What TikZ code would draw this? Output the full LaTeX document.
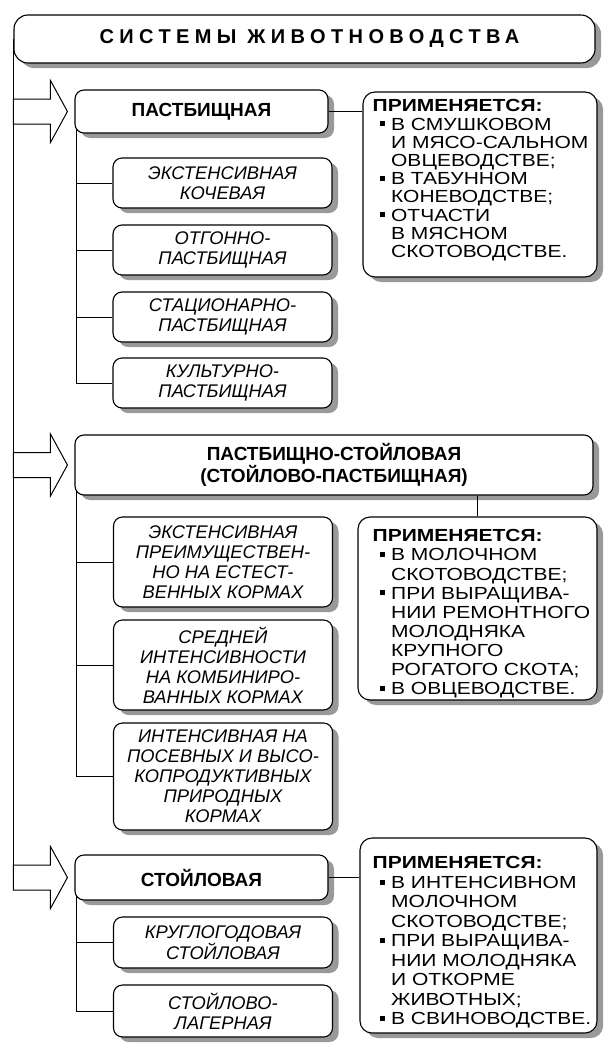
\documentclass[tikz,border=0pt]{standalone}
\usepackage{fontspec}
\setmainfont{Liberation Sans}
\newfontfamily\listfont[FakeStretch=1.2]{Liberation Sans}
\newfontfamily\titlefont[LetterSpace=27]{Liberation Sans}
\usetikzlibrary{positioning, shadows, backgrounds}

\newcommand{\bul}{\hspace*{7pt}\rule[3.8pt]{5pt}{5pt}\hspace*{6.5pt}}
\newcommand{\ind}{\hspace*{18.5pt}}

\tikzset{
  box/.style={draw, line width=1.1pt, fill=white, rounded corners=9pt,
    drop shadow={shadow xshift=6pt, shadow yshift=-5pt, fill=black!40, opacity=1}},
  head/.style={box, inner sep=0pt, align=center, font=\fontsize{19}{22}\selectfont\bfseries},
  sub/.style={box, inner sep=0pt, align=center, minimum width=219pt, font=\fontsize{18.3}{20}\selectfont\itshape},
  note/.style={box, rounded corners=12pt},
  notetext/.style={inner sep=0pt, align=left, font=\listfont\fontsize{17.5}{#1}\selectfont},
  link/.style={line width=0.9pt},
  blockarrow/.style={line width=1pt, fill=white, line join=miter}
}

\begin{document}
\begin{tikzpicture}[x=1pt, y=1pt]
  \useasboundingbox (0,0) rectangle (613,-1060);

  \node[box, rounded corners=14pt, minimum width=581pt, minimum height=48pt, inner sep=0pt,
    font=\titlefont\fontsize{20}{22}\selectfont\bfseries] (title) at (304.5,-39) {\hspace*{10pt}СИСТЕМЫ ЖИВОТНОВОДСТВА};

  % pastbishchnaya
  \node[head, minimum width=253pt, minimum height=43pt] (p1) at (201.5,-111.5) {ПАСТБИЩНАЯ};
  \node[sub, minimum height=50pt] (q1) at (222.5,-183) {ЭКСТЕНСИВНАЯ\\КОЧЕВАЯ};
  \node[sub, minimum height=50pt] (q2) at (222.5,-250) {ОТГОННО-\\ПАСТБИЩНАЯ};
  \node[sub, minimum height=50pt] (q3) at (222.5,-317) {СТАЦИОНАРНО-\\ПАСТБИЩНАЯ};
  \node[sub, minimum height=50pt] (q4) at (222.5,-383) {КУЛЬТУРНО-\\ПАСТБИЩНАЯ};
  \node[note, minimum width=234pt, minimum height=185pt] (r1) at (480,-184.5) {};
  \node[notetext=18.2, below right=8pt and 10pt of r1.north west] (t1) {{\bfseries ПРИМЕНЯЕТСЯ:}\\
    \bul В СМУШКОВОМ\\ \ind И МЯСО-САЛЬНОМ\\ \ind ОВЦЕВОДСТВЕ;\\
    \bul В ТАБУННОМ\\ \ind КОНЕВОДСТВЕ;\\
    \bul ОТЧАСТИ\\ \ind В МЯСНОМ\\ \ind СКОТОВОДСТВЕ.};

  % pastbishchno-stoilovaya
  \node[head, minimum width=518pt, minimum height=60pt] (p2) at (334,-465) {ПАСТБИЩНО-СТОЙЛОВАЯ\\(СТОЙЛОВО-ПАСТБИЩНАЯ)};
  \node[sub, minimum height=90pt] (s1) at (223,-562) {ЭКСТЕНСИВНАЯ\\ПРЕИМУЩЕСТВЕН-\\НО НА ЕСТЕСТ-\\ВЕННЫХ КОРМАХ};
  \node[sub, minimum height=90pt] (s2) at (223,-665) {СРЕДНЕЙ\\ИНТЕНСИВНОСТИ\\НА КОМБИНИРО-\\ВАННЫХ КОРМАХ};
  \node[sub, minimum height=107pt] (s3) at (223,-776.5) {ИНТЕНСИВНАЯ НА\\ПОСЕВНЫХ И ВЫСО-\\КОПРОДУКТИВНЫХ\\ПРИРОДНЫХ\\КОРМАХ};
  \node[note, minimum width=239pt, minimum height=183pt] (r2) at (477.5,-608.5) {};
  \node[notetext=19.1, below right=13pt and 15pt of r2.north west] (t2) {{\bfseries ПРИМЕНЯЕТСЯ:}\\
    \bul В МОЛОЧНОМ\\ \ind СКОТОВОДСТВЕ;\\
    \bul ПРИ ВЫРАЩИВА-\\ \ind НИИ РЕМОНТНОГО\\ \ind МОЛОДНЯКА\\ \ind КРУПНОГО\\ \ind РОГАТОГО СКОТА;\\
    \bul В ОВЦЕВОДСТВЕ.};

  % stoilovaya
  \node[head, minimum width=253pt, minimum height=45pt] (p3) at (201.5,-877.5) {СТОЙЛОВАЯ};
  \node[sub, minimum height=51pt] (k1) at (223,-942.5) {КРУГЛОГОДОВАЯ\\СТОЙЛОВАЯ};
  \node[sub, minimum height=52pt] (k2) at (223,-1011) {СТОЙЛОВО-\\ЛАГЕРНАЯ};
  \node[note, minimum width=237pt, minimum height=195pt] (r3) at (478.5,-935.5) {};
  \node[notetext=19.5, below right=19pt and 13pt of r3.north west] (t3) {{\bfseries ПРИМЕНЯЕТСЯ:}\\
    \bul В ИНТЕНСИВНОМ\\ \ind МОЛОЧНОМ\\ \ind СКОТОВОДСТВЕ;\\
    \bul ПРИ ВЫРАЩИВА-\\ \ind НИИ МОЛОДНЯКА\\ \ind И ОТКОРМЕ\\ \ind ЖИВОТНЫХ;\\
    \bul В СВИНОВОДСТВЕ.};

  \begin{scope}[on background layer]
    \draw[link] (title.west) -- ([yshift=-12.5pt]title.west |- p3.west);
    \foreach \s in {q1,q2,q3,q4} \draw[link] ([xshift=2pt]p1.west) |- (\s.west);
    \foreach \s in {s1,s2,s3} \draw[link] ([xshift=2pt]p2.west) |- (\s.west);
    \foreach \s in {k1,k2} \draw[link] ([xshift=2pt]p3.west) |- (\s.west);
  \end{scope}
  \draw[link] (p1.east) -- (r1.west |- p1.east);
  \draw[link] (r2.north |- p2.south) -- (r2.north);
  \draw[link] (p3.east) -- (r3.west |- p3.east);

  \foreach \h in {p1,p2,p3}
    \draw[blockarrow] ([xshift=-7pt]\h.west) -- ++(-17,31) -- ++(0,-18.5) -- ++(-37,0)
      -- ++(0,-25) -- ++(37,0) -- ++(0,-18.5) -- cycle;
\end{tikzpicture}
\end{document}
